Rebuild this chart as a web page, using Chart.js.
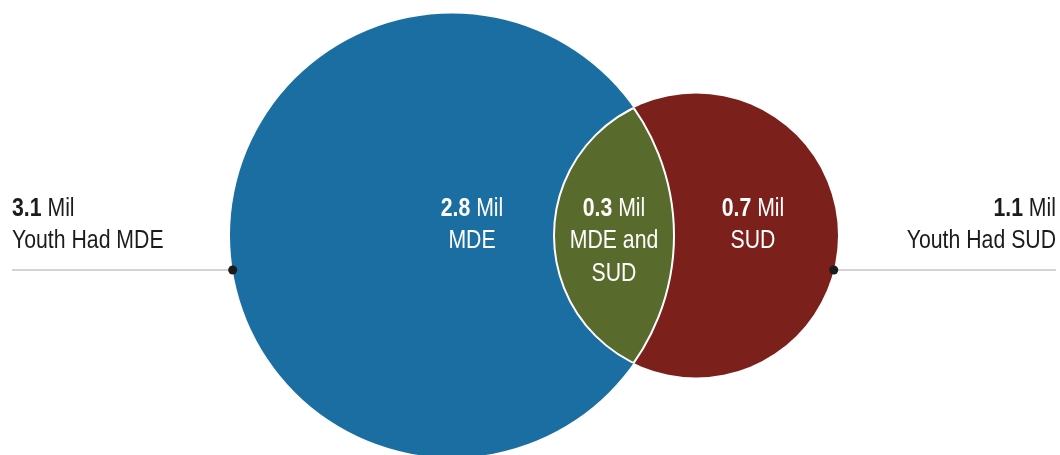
<!DOCTYPE html>
<html>
<head>
<meta charset="utf-8">
<script src="https://cdn.jsdelivr.net/npm/chart.js@4/dist/chart.umd.min.js"></script>
<style>
  html, body { margin:0; padding:0; background:#fff; }
  #wrap { width:1060px; height:455px; }
</style>
</head>
<body>
<div id="wrap"><canvas id="venn"></canvas></div>
<script>
// ── Data ──────────────────────────────────────
const SETS         = ['MDE', 'SUD'];
const SET_TOTALS   = [3.1, 1.1];                       // millions of youth
const TOTAL_LABELS = ['Youth Had MDE', 'Youth Had SUD'];
const REGION_VALS  = [2.8, 0.3, 0.7];                  // MDE only, both, SUD only
const REGION_TEXT  = [['MDE'], ['MDE and', 'SUD'], ['SUD']];
const UNIT         = 'Mil';

// ── Layout (scale units, 1 unit = 1 px on this canvas) ──
const CENTER_X  = [452, 696];
const CENTER_Y  = 235.5;
const RADIUS    = [222, 142];
const REGION_X  = [472, 614, 753];
const LINE_Y    = [216, 248, 281];   // baselines of text rows
const LEADER_Y  = 270;
const EDGE_X    = [12, 1056];

// ── Style ─────────────────────────────────────
const C = { blue:'#1a6ea2', red:'#7b201b', green:'#596a2d', ink:'#1c1c1c', rule:'#c4c4c4' };
const FAMILY = "'Liberation Sans', Arial, sans-serif";
const SIZE = 25;
const NARROW = 0.85;   // condensed look of the original type

// radius in scale units -> pixels (filled once the scales are laid out)
const rPx = (chart, r) => chart.scales.x.getPixelForValue(r) - chart.scales.x.getPixelForValue(0);
let pxRadius = [0, 0];
const sizePlugin = {
  id:'size',
  afterLayout(chart) { pxRadius = RADIUS.map(r => rPx(chart, r)); }
};

// condensed text: parts = [[text, bold], ...] laid out on one line
function drawLine(ctx, parts, x, y, align, color) {
  const fonts = parts.map(p => `${p[1] ? 'bold ' : ''}${SIZE}px ${FAMILY}`);
  const widths = parts.map((p, k) => { ctx.font = fonts[k]; return ctx.measureText(p[0]).width; });
  const total = widths.reduce((a, b) => a + b, 0) * NARROW;
  let x0 = align === 'center' ? x - total / 2 : align === 'right' ? x - total : x;
  ctx.save();
  ctx.translate(x0, y); ctx.scale(NARROW, 1);
  ctx.fillStyle = color; ctx.textAlign = 'left'; ctx.textBaseline = 'alphabetic';
  let cx = 0;
  parts.forEach((p, k) => { ctx.font = fonts[k]; ctx.fillText(p[0], cx, 0); cx += widths[k]; });
  ctx.restore();
}
const valueParts = v => [[v.toFixed(1), true], [' ' + UNIT, false]];

// green lens where the two circles overlap
const lensPlugin = {
  id:'lens',
  afterDatasetsDraw(chart) {
    const { ctx, scales:{x, y} } = chart;
    const cx = CENTER_X.map(v => x.getPixelForValue(v)), cy = y.getPixelForValue(CENTER_Y);
    const r = RADIUS.map(v => rPx(chart, v));
    ctx.save();
    ctx.beginPath(); ctx.arc(cx[0], cy, r[0], 0, Math.PI * 2); ctx.clip();
    ctx.beginPath(); ctx.arc(cx[1], cy, r[1], 0, Math.PI * 2);
    ctx.fillStyle = C.green; ctx.fill();
    ctx.strokeStyle = '#fff'; ctx.lineWidth = 2; ctx.stroke();
    ctx.restore();
    ctx.save();
    ctx.beginPath(); ctx.arc(cx[1], cy, r[1], 0, Math.PI * 2); ctx.clip();
    ctx.beginPath(); ctx.arc(cx[0], cy, r[0], 0, Math.PI * 2);
    ctx.strokeStyle = '#fff'; ctx.lineWidth = 2; ctx.stroke();
    ctx.restore();
  }
};

// region values, totals, leader lines and dots
const labelPlugin = {
  id:'labels',
  afterDraw(chart) {
    const { ctx, scales:{x, y} } = chart;
    // inside regions
    REGION_VALS.forEach((v, i) => {
      const px = x.getPixelForValue(REGION_X[i]);
      drawLine(ctx, valueParts(v), px, y.getPixelForValue(LINE_Y[0]), 'center', '#fff');
      REGION_TEXT[i].forEach((t, j) => drawLine(ctx, [[t, false]], px, y.getPixelForValue(LINE_Y[j + 1]), 'center', '#fff'));
    });
    // set totals on both sides
    SETS.forEach((s, i) => {
      const align = i === 0 ? 'left' : 'right';
      const ex = x.getPixelForValue(EDGE_X[i]);
      drawLine(ctx, valueParts(SET_TOTALS[i]), ex, y.getPixelForValue(LINE_Y[0]), align, C.ink);
      drawLine(ctx, [[TOTAL_LABELS[i], false]], ex, y.getPixelForValue(LINE_Y[1]), align, C.ink);
      // leader line to the circle edge
      const ly = y.getPixelForValue(LEADER_Y);
      const dy = LEADER_Y - CENTER_Y;
      const edge = CENTER_X[i] + (i === 0 ? -1 : 1) * Math.sqrt(RADIUS[i] ** 2 - dy * dy);
      const px = x.getPixelForValue(edge);
      ctx.save();
      ctx.strokeStyle = C.rule; ctx.lineWidth = 1.5;
      ctx.beginPath(); ctx.moveTo(ex, ly); ctx.lineTo(px, ly); ctx.stroke();
      ctx.fillStyle = C.ink;
      ctx.beginPath(); ctx.arc(px, ly, 4.5, 0, Math.PI * 2); ctx.fill();
      ctx.restore();
    });
  }
};

new Chart(document.getElementById('venn'), {
  type:'scatter',
  data:{ datasets: SETS.map((s, i) => ({
    label:s,
    data:[{ x:CENTER_X[i], y:CENTER_Y }],
    backgroundColor: i === 0 ? C.blue : C.red,
    pointBackgroundColor: i === 0 ? C.blue : C.red,
    pointBorderWidth:0, pointHoverBorderWidth:0,
    pointRadius: () => pxRadius[i] || 0,
    pointHoverRadius: () => pxRadius[i] || 0,
    clip:false
  })) },
  options:{
    responsive:true, maintainAspectRatio:false, animation:false, events:[],
    layout:{ padding:0, autoPadding:false },
    plugins:{ legend:{display:false}, tooltip:{enabled:false} },
    scales:{
      x:{ type:'linear', min:0, max:1060, display:false },
      y:{ type:'linear', min:0, max:455, reverse:true, display:false }
    }
  },
  plugins:[sizePlugin, lensPlugin, labelPlugin]
});
</script>
</body>
</html>
